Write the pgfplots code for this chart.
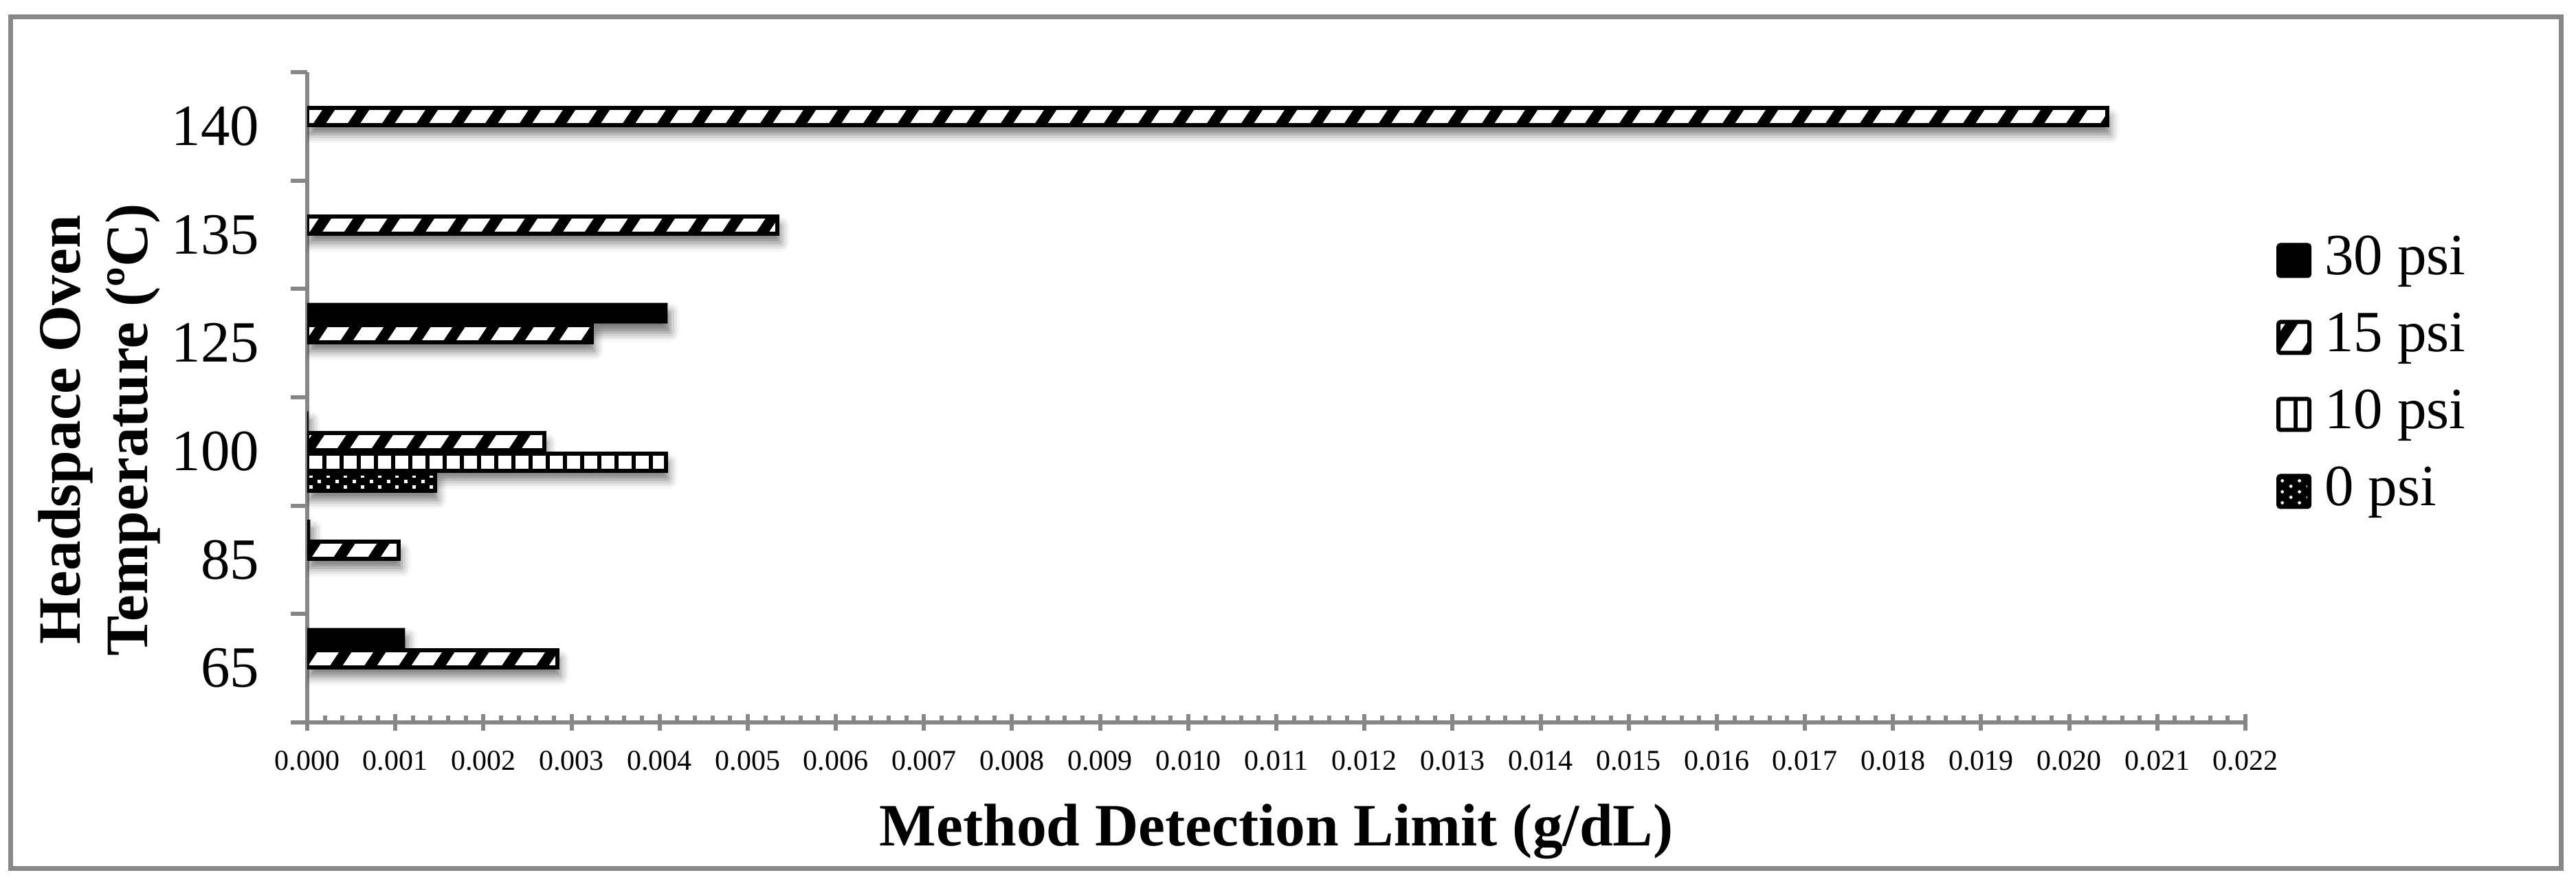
\documentclass[border=0pt]{standalone}
\usepackage{fontspec}
\setmainfont{Liberation Serif}
\usepackage{pgfplots}
\pgfplotsset{compat=1.18}
\usepackage{pgfplotstable}
\usetikzlibrary{shadows.blur}

\definecolor{axgray}{RGB}{135,135,135}

% white shapes drawn over a black bar, clipped to the bar by path picture.
% plain pgf with TeX loops, so nothing goes through axis coordinates.
\newcount\barcnt
\newcount\barrow
\def\getbarcorner{%
  \pgfpointanchor{path picture bounding box}{south west}\pgfgetlastxy\hbx\hby}
\def\hatchfill{%
  \getbarcorner
  \ifdim\hbx<5000pt
    \pgfsetfillcolor{white}%
    \barcnt=-14
    \loop
      \pgfpathmoveto{\pgfqpoint{\dimexpr\hbx+10pt*\barcnt\relax}{\hby}}%
      \pgfpathlineto{\pgfqpoint{\dimexpr\hbx+10pt*\barcnt+6.3pt\relax}{\hby}}%
      \pgfpathlineto{\pgfqpoint{\dimexpr\hbx+10pt*\barcnt+139.6pt\relax}{\dimexpr\hby+200pt\relax}}%
      \pgfpathlineto{\pgfqpoint{\dimexpr\hbx+10pt*\barcnt+133.3pt\relax}{\dimexpr\hby+200pt\relax}}%
      \pgfpathclose
      \pgfusepath{fill}%
      \advance\barcnt by 1
    \ifnum\barcnt<61 \repeat
  \fi}
\def\vlinefill{%
  \getbarcorner
  \ifdim\hbx<5000pt
    \pgfsetfillcolor{white}%
    \barcnt=0
    \loop
      \pgfpathrectangle{\pgfqpoint{\dimexpr\hbx+5pt*\barcnt+0.6pt\relax}{\dimexpr\hby-1pt\relax}}%
        {\pgfqpoint{3.8pt}{200pt}}%
      \pgfusepath{fill}%
      \advance\barcnt by 1
    \ifnum\barcnt<41 \repeat
  \fi}
\def\dotrow{{%
  \barcnt=0
  \ifodd\barrow \def\dotoff{3.1pt}\else\def\dotoff{0.6pt}\fi
  \loop
    \pgfpathrectangle{\pgfqpoint{\dimexpr\hbx+5pt*\barcnt+\dotoff\relax}%
      {\dimexpr\hby+0.7pt+1.6pt*\barrow\relax}}{\pgfqpoint{1pt}{1pt}}%
    \pgfusepath{fill}%
    \advance\barcnt by 1
  \ifnum\barcnt<13 \repeat}}
\def\dotfill{%
  \getbarcorner
  \ifdim\hbx<5000pt
    \pgfsetfillcolor{white}%
    \barrow=0
    \loop
      \dotrow
      \advance\barrow by 1
    \ifnum\barrow<6 \repeat
  \fi}

\tikzset{
  s30/.style={fill=black, draw=none},
  s15/.style={fill=black, draw=black, line width=1.2pt, path picture={\hatchfill}},
  s10/.style={fill=black, draw=black, line width=1.2pt, path picture={\vlinefill}},
  s0/.style={fill=black, draw=black, line width=1.2pt, path picture={\dotfill}},
  barshadow/.style={blur shadow={shadow xshift=0.8pt, shadow yshift=-2.6pt,
    shadow blur radius=2.6pt, shadow opacity=55}},
}

% y: 0=65, 1=85, 2=100, 3=125, 4=135, 5=140 (degrees C)
\pgfplotstableread{
y x
0 0.00111
1 0.000035
2 0.000012
3 0.00409
}\dthirty
\pgfplotstableread{
y x
0 0.00284
1 0.00104
2 0.00269
3 0.00323
4 0.00534
5 0.02043
}\dfifteen
\pgfplotstableread{
y x
2 0.00407
}\dten
\pgfplotstableread{
y x
2 0.00145
}\dzero

\begin{document}
\begin{tikzpicture}
\useasboundingbox (0,0) rectangle (749.6pt,257.6pt);
\draw[axgray, line width=1.4pt] (3.1pt,4.94pt) rectangle (745.3pt,252.6pt);
\begin{axis}[
  at={(89.4pt,47.4pt)}, anchor=south west,
  scale only axis, width=564pt, height=189.2pt,
  xmin=0, xmax=0.022, ymin=-0.5, ymax=5.5,
  axis lines*=left,
  axis line style={draw=axgray, line width=1.2pt},
  tick align=center,
  major tick length=4.8pt, minor tick length=2pt,
  tick style={draw=axgray, line width=1.2pt},
  every minor x tick/.append style={yshift=1pt},
  every major y tick/.append style={xshift=-2.4pt},
  xtick={0,0.001,0.002,0.003,0.004,0.005,0.006,0.007,0.008,0.009,0.010,0.011,
         0.012,0.013,0.014,0.015,0.016,0.017,0.018,0.019,0.020,0.021,0.022},
  minor x tick num=4,
  scaled x ticks=false,
  /pgf/number format/assume math mode=true,
  xticklabel style={font=\fontsize{8.4}{10}\selectfont,
    /pgf/number format/fixed, /pgf/number format/fixed zerofill,
    /pgf/number format/precision=3, yshift=-2.4pt},
  ytick={-0.5,0.5,1.5,2.5,3.5,4.5,5.5},
  yticklabels={65,85,100,125,135,140,{}},
  yticklabel style={font=\fontsize{17}{20}\selectfont, yshift=15.77pt, xshift=-8pt},
  xlabel={Method Detection Limit (g/dL)},
  xlabel style={at={(axis description cs:0.5,0)}, anchor=base, yshift=-35.8pt,
    font=\fontsize{17.5}{21}\selectfont\bfseries},
  ylabel={Headspace Oven\\Temperature (ºC)},
  ylabel style={at={(axis description cs:-0.1074,0.45)}, anchor=center, align=center,
    font=\fontsize{17.5}{19.6}\selectfont\bfseries},
  legend image code/.code={\path[#1, rounded corners=0.6pt] (0pt,-4.4pt) rectangle (9pt,4.6pt);},
  legend cell align=left,
  legend style={at={(1.016,0.5323)}, anchor=west, draw=none, fill=none,
    inner sep=0pt, outer sep=0pt, row sep=6.4pt, column sep=3.8pt,
    nodes={inner sep=0pt, text height=12pt, text depth=4pt},
    font=\fontsize{17}{20}\selectfont},
]
\addplot[xbar, bar width=6pt, bar shift=8.7pt, barshadow, s30, forget plot]
  table[x=x, y=y] {\dthirty};
\addplot[xbar, bar width=5pt, bar shift=2.8pt, barshadow, s15, forget plot]
  table[x=x, y=y] {\dfifteen};
\addplot[xbar, bar width=5pt, bar shift=-3.1pt, barshadow, s10, forget plot]
  table[x=x, y=y] {\dten};
\addplot[xbar, bar width=5pt, bar shift=-9.0pt, barshadow, s0, forget plot]
  table[x=x, y=y] {\dzero};

\addlegendimage{s30, draw=black, line width=1.2pt}
\addlegendentry{30 psi}
\addlegendimage{s15}
\addlegendentry{15 psi}
\addlegendimage{s10}
\addlegendentry{10 psi}
\addlegendimage{s0}
\addlegendentry{0 psi}
\end{axis}
\end{tikzpicture}
\end{document}
